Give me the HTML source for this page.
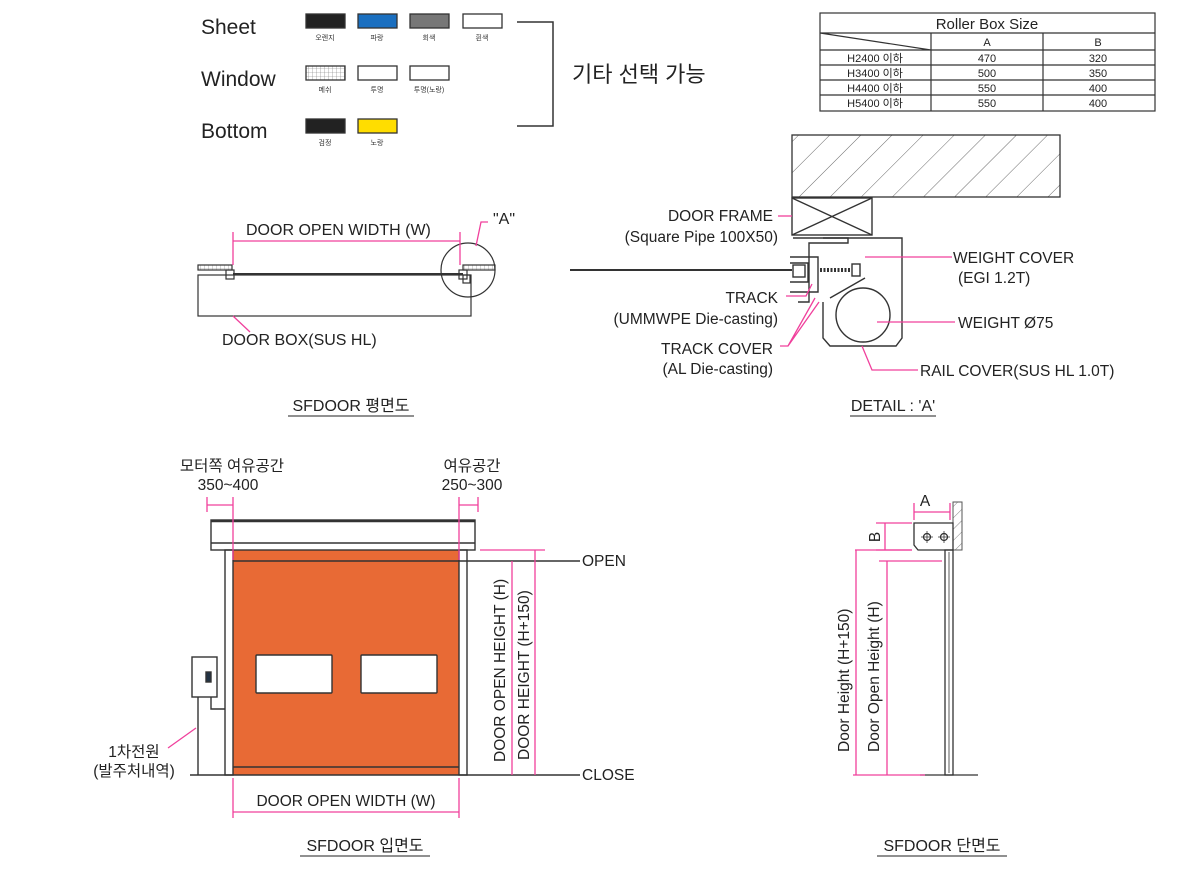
<!DOCTYPE html>
<html><head><meta charset="utf-8"><style>
html,body{margin:0;padding:0;background:#fff;}
svg{display:block;font-family:"Liberation Sans","Noto Sans CJK KR",sans-serif;}
</style></head><body>
<svg width="1200" height="876" viewBox="0 0 1200 876" xmlns="http://www.w3.org/2000/svg">
<defs>
<pattern id="hatch" width="22" height="22" patternUnits="userSpaceOnUse" patternTransform="rotate(45)">
<line x1="0" y1="0" x2="0" y2="22" stroke="#444" stroke-width="0.8"/></pattern>
<pattern id="hatch2" width="8" height="8" patternUnits="userSpaceOnUse" patternTransform="rotate(45)">
<line x1="0" y1="0" x2="0" y2="8" stroke="#666" stroke-width="0.8"/></pattern>
<pattern id="mesh" width="4" height="4" patternUnits="userSpaceOnUse">
<rect width="4" height="4" fill="#fff"/><path d="M0 0H4M0 0V4" stroke="#777" stroke-width="0.6"/></pattern>
</defs>
<g fill="#222">
<text x="201" y="34" font-size="21">Sheet</text>
<text x="201" y="86" font-size="21">Window</text>
<text x="201" y="138" font-size="21">Bottom</text>
</g>
<g stroke="#333" stroke-width="1.3">
<rect x="306" y="14" width="39" height="14" fill="#222"/>
<rect x="358" y="14" width="39" height="14" fill="#1a6fc0"/>
<rect x="410" y="14" width="39" height="14" fill="#777"/>
<rect x="463" y="14" width="39" height="14" fill="#fff"/>
<rect x="306" y="66" width="39" height="14" fill="url(#mesh)"/>
<rect x="358" y="66" width="39" height="14" fill="#fff"/>
<rect x="410" y="66" width="39" height="14" fill="#fff"/>
<rect x="306" y="119" width="39" height="14" fill="#222"/>
<rect x="358" y="119" width="39" height="14" fill="#ffdd00"/>
</g>
<g font-size="7" fill="#333" text-anchor="middle">
<text x="325" y="40">오렌지</text><text x="377" y="40">파랑</text><text x="429" y="40">회색</text><text x="482" y="40">흰색</text>
<text x="325" y="92">메쉬</text><text x="377" y="92">투명</text><text x="429" y="92">투명(노랑)</text>
<text x="325" y="145">검정</text><text x="377" y="145">노랑</text>
</g>
<path d="M517 22H553V126H517" fill="none" stroke="#333" stroke-width="1.5"/>
<text x="572" y="82" font-size="22" fill="#222">기타 선택 가능</text>

<g stroke="#333" stroke-width="1.2" fill="none">
<rect x="820" y="13" width="335" height="98"/>
<path d="M820 33H1155M820 50H1155M820 65H1155M820 80H1155M820 95H1155M931 33V111M1043 33V111M820 33L931 50"/>
</g>
<g font-size="11" fill="#222" text-anchor="middle">
<text x="987" y="29" font-size="15">Roller Box Size</text>
<text x="987" y="46">A</text><text x="1098" y="46">B</text>
<text x="875" y="62">H2400 이하</text><text x="987" y="62">470</text><text x="1098" y="62">320</text>
<text x="875" y="77">H3400 이하</text><text x="987" y="77">500</text><text x="1098" y="77">350</text>
<text x="875" y="92">H4400 이하</text><text x="987" y="92">550</text><text x="1098" y="92">400</text>
<text x="875" y="107">H5400 이하</text><text x="987" y="107">550</text><text x="1098" y="107">400</text>
</g>

<g stroke="#333" fill="none" stroke-width="1.2">
<rect x="198" y="265" width="34" height="5" fill="url(#mesh)"/>
<rect x="463" y="265" width="32" height="5" fill="url(#mesh)"/>
<rect x="198" y="275" width="273" height="41"/>
<line x1="233" y1="274" x2="463" y2="274" stroke-width="2"/>
<rect x="226" y="270" width="8" height="9"/>
<rect x="459" y="270" width="8" height="9"/>
<rect x="463" y="275" width="7" height="8"/>
<circle cx="468" cy="270" r="27"/>
</g>
<g stroke="#f0409c" stroke-width="1.3" fill="none">
<path d="M233 232V265M460 232V265M233 241H460"/>
<path d="M476 246L481 222H488"/>
<path d="M233 316L250 332"/>
</g>
<g fill="#222" font-size="16">
<text x="246" y="235">DOOR OPEN WIDTH (W)</text>
<text x="493" y="224">"A"</text>
<text x="222" y="345">DOOR BOX(SUS HL)</text>
<text x="351" y="411" text-anchor="middle">SFDOOR 평면도</text>
<text x="893" y="411" text-anchor="middle">DETAIL : 'A'</text>
<text x="365" y="851" text-anchor="middle">SFDOOR 입면도</text>
<text x="942" y="851" text-anchor="middle">SFDOOR 단면도</text>
</g>
<g stroke="#222" stroke-width="1">
<line x1="288" y1="416" x2="414" y2="416"/><line x1="850" y1="416" x2="936" y2="416"/>
<line x1="300" y1="856" x2="430" y2="856"/><line x1="877" y1="856" x2="1007" y2="856"/>
</g>

<rect x="792" y="135" width="268" height="62" fill="url(#hatch)" stroke="#333" stroke-width="1.3"/>
<g stroke="#333" stroke-width="1.4" fill="none">
<rect x="792" y="198" width="80" height="37"/>
<path d="M792 198L872 235M872 198L792 235"/>
<path d="M793 238H848V243H809V302H798"/>
<path d="M823 238H902V338L896 346H830L823 338V302"/>
<circle cx="863" cy="315" r="27"/>
<path d="M830 298L865 278"/>
<line x1="570" y1="270" x2="792" y2="270" stroke-width="2"/>
<path d="M790 257H818V292H790M790 263H808V282H790"/>
<rect x="793" y="265" width="12" height="12"/>
<path d="M820 270H860" stroke-width="4" stroke-dasharray="2 1.5"/>
<rect x="852" y="264" width="8" height="12" fill="#fff"/>
</g>
<g stroke="#f0409c" stroke-width="1.3" fill="none">
<path d="M778 216H792"/>
<path d="M865 257H952"/>
<path d="M877 322H955"/>
<path d="M862 346L872 370H918"/>
<path d="M786 296H806L812 284"/>
<path d="M780 346H788L815 298M788 346L819 302"/>
</g>
<g fill="#222" font-size="15.5">
<text x="773" y="221" text-anchor="end">DOOR FRAME</text>
<text x="778" y="242" text-anchor="end">(Square Pipe 100X50)</text>
<text x="778" y="303" text-anchor="end">TRACK</text>
<text x="778" y="324" text-anchor="end">(UMMWPE Die-casting)</text>
<text x="773" y="354" text-anchor="end">TRACK COVER</text>
<text x="773" y="374" text-anchor="end">(AL Die-casting)</text>
<text x="953" y="263">WEIGHT COVER</text>
<text x="958" y="283">(EGI 1.2T)</text>
<text x="958" y="328">WEIGHT Ø75</text>
<text x="920" y="376">RAIL COVER(SUS HL 1.0T)</text>
</g>

<g fill="#222" font-size="15.5" text-anchor="middle">
<text x="232" y="471">모터쪽 여유공간</text><text x="228" y="490">350~400</text>
<text x="472" y="471">여유공간</text><text x="472" y="490">250~300</text>
<text x="346" y="806">DOOR OPEN WIDTH (W)</text>
<text x="134" y="757">1차전원</text><text x="134" y="776">(발주처내역)</text>
<text x="582" y="566" text-anchor="start">OPEN</text>
<text x="582" y="780" text-anchor="start">CLOSE</text>
</g>
<rect x="233" y="550" width="226" height="225" fill="#e86a35"/>
<g stroke="#333" stroke-width="1.4" fill="none">
<rect x="211" y="520" width="264" height="30" fill="#fff"/>
<line x1="211" y1="543" x2="475" y2="543"/>
<line x1="211" y1="521" x2="475" y2="521" stroke-width="2.5"/>
<rect x="225" y="550" width="8" height="225"/>
<rect x="459" y="550" width="8" height="225"/>
<path d="M233 561H580M233 767H459"/>
<rect x="256" y="655" width="76" height="38" fill="#fff" rx="1"/>
<rect x="361" y="655" width="76" height="38" fill="#fff" rx="1"/>
<rect x="192" y="657" width="25" height="40" fill="#fff"/>
<rect x="206" y="672" width="5" height="10" fill="#234"/>
<path d="M211 697V709H225M198 697V775"/>
<line x1="190" y1="775" x2="580" y2="775"/>
</g>
<g stroke="#f0409c" stroke-width="1.3" fill="none">
<path d="M207 497V512M233 497V560M207 505H233"/>
<path d="M459 497V560M478 497V512M459 505H478"/>
<path d="M233 778V818M459 778V818M233 812H459"/>
<path d="M480 550H545M512 561V775M535 550V775"/>
<path d="M168 748L196 728"/>
</g>
<g fill="#222" font-size="15.5">
<text transform="translate(505,762) rotate(-90)">DOOR OPEN HEIGHT (H)</text>
<text transform="translate(529,760) rotate(-90)">DOOR HEIGHT (H+150)</text>
</g>

<rect x="953" y="502" width="9" height="48" fill="url(#hatch2)" stroke="#555" stroke-width="1"/>
<g stroke="#333" stroke-width="1.3" fill="none">
<path d="M914 523H953V550H918L914 545Z"/>
<circle cx="927" cy="537" r="3.5"/><circle cx="944" cy="537" r="3.5"/>
<path d="M921 537H933M927 531V543M938 537H950M944 531V543" stroke-width="0.8"/>
<rect x="945" y="550" width="8" height="225"/>
<line x1="949" y1="552" x2="949" y2="773" stroke-width="0.8"/>
<line x1="920" y1="775" x2="978" y2="775"/>
</g>
<g stroke="#f0409c" stroke-width="1.3" fill="none">
<path d="M914 503V520M950 503V520M914 512H950"/>
<path d="M876 523H912M876 550H912M885 523V550"/>
<path d="M855 550H912M856 550V775M879 561H942M887 561V775M853 775H925"/>
</g>
<g fill="#222" font-size="15.5">
<text x="925" y="506" text-anchor="middle">A</text>
<text transform="translate(880,537) rotate(-90)" text-anchor="middle">B</text>
<text transform="translate(849,752) rotate(-90)">Door Height (H+150)</text>
<text transform="translate(879,752) rotate(-90)">Door Open Height (H)</text>
</g>
</svg>
</body></html>
